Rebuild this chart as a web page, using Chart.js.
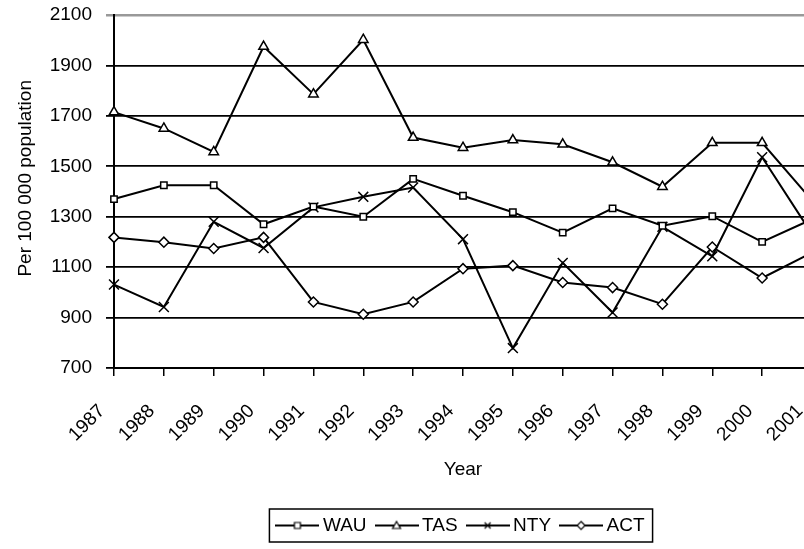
<!DOCTYPE html>
<html>
<head>
<meta charset="utf-8">
<script src="https://cdn.jsdelivr.net/npm/chart.js@4.4.1/dist/chart.umd.min.js"></script>
<style>
  body { margin: 0; background: #fff; overflow: hidden; }
  #wrap { width: 830px; height: 549px; }
</style>
</head>
<body>
<div id="wrap"><canvas id="myChart" width="830" height="549"></canvas></div>
<script>
const years = ['1987', '1988', '1989', '1990', '1991', '1992', '1993', '1994',
  '1995', '1996', '1997', '1998', '1999', '2000', '2001'];
const wau = [1370, 1425, 1425, 1270, 1340, 1300, 1450, 1383, 1318, 1237, 1333, 1264, 1302, 1200, 1290];
const tas = [1715, 1650, 1557, 1975, 1786, 2002, 1614, 1574, 1604, 1587, 1516, 1419, 1593, 1593, 1365];
const nty = [1031, 942, 1280, 1176, 1337, 1379, 1416, 1211, 779, 1117, 920, 1260, 1143, 1536, 1231];
const act = [1218, 1199, 1174, 1218, 962, 913, 962, 1094, 1106, 1039, 1019, 953, 1180, 1057, 1158];
const yTicks = [700, 900, 1100, 1300, 1500, 1700, 1900, 2100];

const font = "'Liberation Sans', Arial, sans-serif";

// little line+marker pictures for the legend
function legendIcon(style) {
  const c = document.createElement('canvas');
  c.width = 44;
  c.height = 14;
  const g = c.getContext('2d');
  g.strokeStyle = '#000';
  g.fillStyle = '#fff';
  g.lineWidth = 2;
  g.beginPath();
  g.moveTo(0, 7);
  g.lineTo(44, 7);
  g.stroke();
  g.lineWidth = 1.2;
  g.beginPath();
  if (style === 'rect') {
    g.rect(19, 4, 6, 6);
  } else if (style === 'triangle') {
    g.moveTo(22, 3);
    g.lineTo(26, 10);
    g.lineTo(18, 10);
    g.closePath();
  } else if (style === 'crossRot') {
    g.moveTo(19, 4); g.lineTo(25, 10);
    g.moveTo(25, 4); g.lineTo(19, 10);
  } else {
    g.moveTo(22, 3); g.lineTo(26, 7); g.lineTo(22, 11); g.lineTo(18, 7);
    g.closePath();
  }
  if (style !== 'crossRot') g.fill();
  g.stroke();
  return c;
}

function series(label, data, style, r) {
  return {
    label: label,
    data: data,
    borderColor: '#000',
    borderWidth: 2,
    backgroundColor: '#fff',
    pointStyle: style,
    pointRadius: r,
    pointBorderWidth: 1.5,
    pointBackgroundColor: '#fff',
    pointBorderColor: '#000',
    tension: 0,
    legendIcon: legendIcon(style)
  };
}

const legendBox = {
  id: 'legendBox',
  afterDraw(chart) {
    const boxes = chart.legend.legendHitBoxes;
    if (!boxes || !boxes.length) return;
    const first = boxes[0];
    const last = boxes[boxes.length - 1];
    const ctx = chart.ctx;
    ctx.save();
    ctx.strokeStyle = '#000';
    ctx.lineWidth = 1.5;
    const left = first.left - 12;
    const right = last.left + last.width + 8;
    const top = first.top - 7;
    ctx.strokeRect(left, top, right - left, first.height + 14);
    ctx.restore();
  }
};

const ctx = document.getElementById('myChart');
new Chart(ctx, {
  type: 'line',
  data: {
    labels: years,
    datasets: [
      series('WAU', wau, 'rect', 4.5),
      series('TAS', tas, 'triangle', 5.5),
      series('NTY', nty, 'crossRot', 7),
      series('ACT', act, 'rectRot', 5)
    ]
  },
  options: {
    responsive: false,
    animation: false,
    layout: { padding: { top: 15, right: 18, bottom: 4, left: 0 } },
    plugins: {
      legend: {
        position: 'bottom',
        fullSize: false,
        labels: {
          usePointStyle: true,
          pointStyleWidth: 32,
          padding: 14,
          color: '#000',
          font: { family: font, size: 19 },
          generateLabels(chart) {
            return chart.data.datasets.map((d, i) => ({
              text: d.label,
              pointStyle: d.legendIcon,
              fontColor: '#000',
              strokeStyle: '#000',
              fillStyle: '#fff',
              lineWidth: 0,
              datasetIndex: i
            }));
          }
        }
      },
      tooltip: { enabled: false }
    },
    scales: {
      x: {
        afterFit: s => {
          s.height = 134;
          s.paddingLeft = 0;
          s.paddingRight = 0;
        },
        border: { display: true, color: '#000', width: 2 },
        grid: { drawOnChartArea: false, drawTicks: true, tickLength: 8, color: '#000', lineWidth: 1.5 },
        ticks: {
          autoSkip: false,
          minRotation: 45,
          maxRotation: 45,
          padding: 24,
          labelOffset: -12,
          color: '#000',
          font: { family: font, size: 19 }
        },
        title: {
          display: true,
          text: 'Year',
          color: '#000',
          font: { family: font, size: 19 },
          padding: { top: 21, bottom: 21 }
        }
      },
      y: {
        min: 700,
        max: 2100,
        afterFit: s => {
          s.width = 114;
          s.paddingTop = 0;
          s.paddingBottom = 0;
        },
        afterBuildTicks: s => { s.ticks = yTicks.map(v => ({ value: v })); },
        border: { display: true, color: '#000', width: 2 },
        grid: {
          color: c => (c.tick && c.tick.value === 2100 ? '#999' : '#000'),
          lineWidth: c => (c.tick && c.tick.value === 2100 ? 2.5 : 1.8),
          tickLength: 8
        },
        ticks: {
          padding: 14,
          color: '#000',
          font: { family: font, size: 19 },
          callback: v => v
        },
        title: {
          display: true,
          // leading spaces nudge the title up a bit, like the original
          text: '     Per 100 000 population',
          color: '#000',
          font: { family: font, size: 19 },
          padding: { top: 14, bottom: 0 }
        }
      }
    }
  },
  plugins: [legendBox]
});
</script>
</body>
</html>
